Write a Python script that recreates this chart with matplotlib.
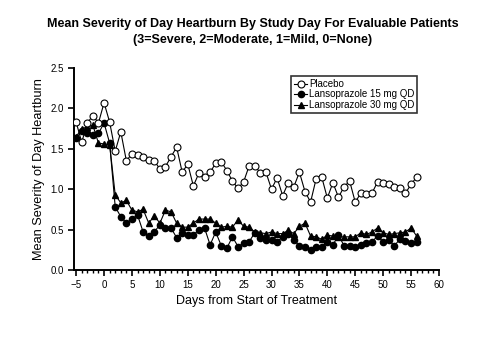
import matplotlib
matplotlib.use("Agg")
import matplotlib.pyplot as plt
from matplotlib.ticker import MultipleLocator, FormatStrFormatter

# Study days -5 .. 56
days = list(range(-5, 57))

placebo = [1.83, 1.58, 1.82, 1.91, 1.82, 2.07, 1.83, 1.47, 1.71, 1.35,
           1.44, 1.42, 1.40, 1.36, 1.35, 1.25, 1.28, 1.40, 1.52, 1.21,
           1.31, 1.04, 1.20, 1.15, 1.21, 1.32, 1.34, 1.23, 1.10, 1.01,
           1.09, 1.29, 1.29, 1.20, 1.21, 1.00, 1.14, 0.92, 1.08, 1.03,
           1.21, 0.97, 0.84, 1.13, 1.15, 0.89, 1.08, 0.90, 1.03, 1.10,
           0.84, 0.95, 0.94, 0.95, 1.09, 1.08, 1.06, 1.03, 1.01, 0.95,
           1.06, 1.15]

lanso15 = [1.63, 1.72, 1.69, 1.67, 1.69, 1.82, 1.57, 0.78, 0.66, 0.58,
           0.63, 0.68, 0.47, 0.42, 0.47, 0.56, 0.52, 0.52, 0.40, 0.46,
           0.43, 0.43, 0.50, 0.52, 0.31, 0.47, 0.30, 0.27, 0.41, 0.29,
           0.33, 0.35, 0.46, 0.40, 0.37, 0.37, 0.35, 0.41, 0.45, 0.37,
           0.30, 0.28, 0.25, 0.28, 0.28, 0.35, 0.31, 0.43, 0.30, 0.30,
           0.28, 0.31, 0.33, 0.35, 0.42, 0.35, 0.37, 0.30, 0.38, 0.36,
           0.33, 0.35]

lanso30 = [1.65, 1.75, 1.77, 1.79, 1.57, 1.56, 1.55, 0.93, 0.83, 0.86,
           0.74, 0.72, 0.75, 0.58, 0.67, 0.58, 0.74, 0.72, 0.58, 0.53,
           0.53, 0.58, 0.63, 0.63, 0.63, 0.58, 0.53, 0.54, 0.53, 0.62,
           0.54, 0.53, 0.47, 0.46, 0.45, 0.47, 0.45, 0.45, 0.49, 0.45,
           0.54, 0.58, 0.42, 0.41, 0.38, 0.43, 0.42, 0.41, 0.41, 0.41,
           0.41, 0.46, 0.44, 0.47, 0.52, 0.46, 0.44, 0.45, 0.46, 0.47,
           0.52, 0.42]

labels = ["Placebo", "Lansoprazole 15 mg QD", "Lansoprazole 30 mg QD"]

plt.rcParams['font.family'] = ['Liberation Sans', 'DejaVu Sans']

fig = plt.figure(figsize=(4.91, 3.40), dpi=100)
ax = fig.add_axes([0.151, 0.206, 0.743, 0.594])

ax.plot(days, placebo, '-o', color='black', mfc='white', mec='black',
        ms=5, mew=0.8, lw=0.8, label=labels[0], zorder=3)
ax.plot(days, lanso15, '-o', color='black', mfc='black',
        ms=4.5, lw=0.8, label=labels[1], zorder=2)
ax.plot(days, lanso30, '-^', color='black', mfc='black',
        ms=4.5, lw=0.8, label=labels[2], zorder=2)

ax.set_xlim(-5.36, 60)
ax.set_ylim(0, 2.5)
ax.xaxis.set_major_locator(MultipleLocator(5))
ax.xaxis.set_minor_locator(MultipleLocator(1))
ax.yaxis.set_major_locator(MultipleLocator(0.5))
ax.yaxis.set_major_formatter(FormatStrFormatter('%.1f'))

for s in ['top', 'right']:
    ax.spines[s].set_visible(False)
for s in ['left', 'bottom']:
    ax.spines[s].set_linewidth(1.4)
ax.tick_params(which='major', direction='out', length=4, width=1.2, labelsize=7)
ax.tick_params(which='minor', direction='out', length=2.5, width=1.0)

ax.set_xlabel('Days from Start of Treatment', fontsize=9, labelpad=3)
ax.set_ylabel('Mean Severity of Day Heartburn', fontsize=9.2, labelpad=4)

fig.text(0.515, 0.929, 'Mean Severity of Day Heartburn By Study Day For Evaluable Patients',
         ha='center', va='center', fontsize=9, fontweight='bold')
fig.text(0.515, 0.882, '(3=Severe, 2=Moderate, 1=Mild, 0=None)',
         ha='center', va='center', fontsize=9, fontweight='bold')

leg = ax.legend(loc='upper right', bbox_to_anchor=(0.94, 0.96), fontsize=7,
                frameon=True, fancybox=False, handlelength=1.3, handletextpad=0.2,
                borderpad=0.3, labelspacing=0.05, borderaxespad=0)
leg.get_frame().set_edgecolor('black')
leg.get_frame().set_linewidth(1.2)

fig.savefig('out.png', dpi=100)
